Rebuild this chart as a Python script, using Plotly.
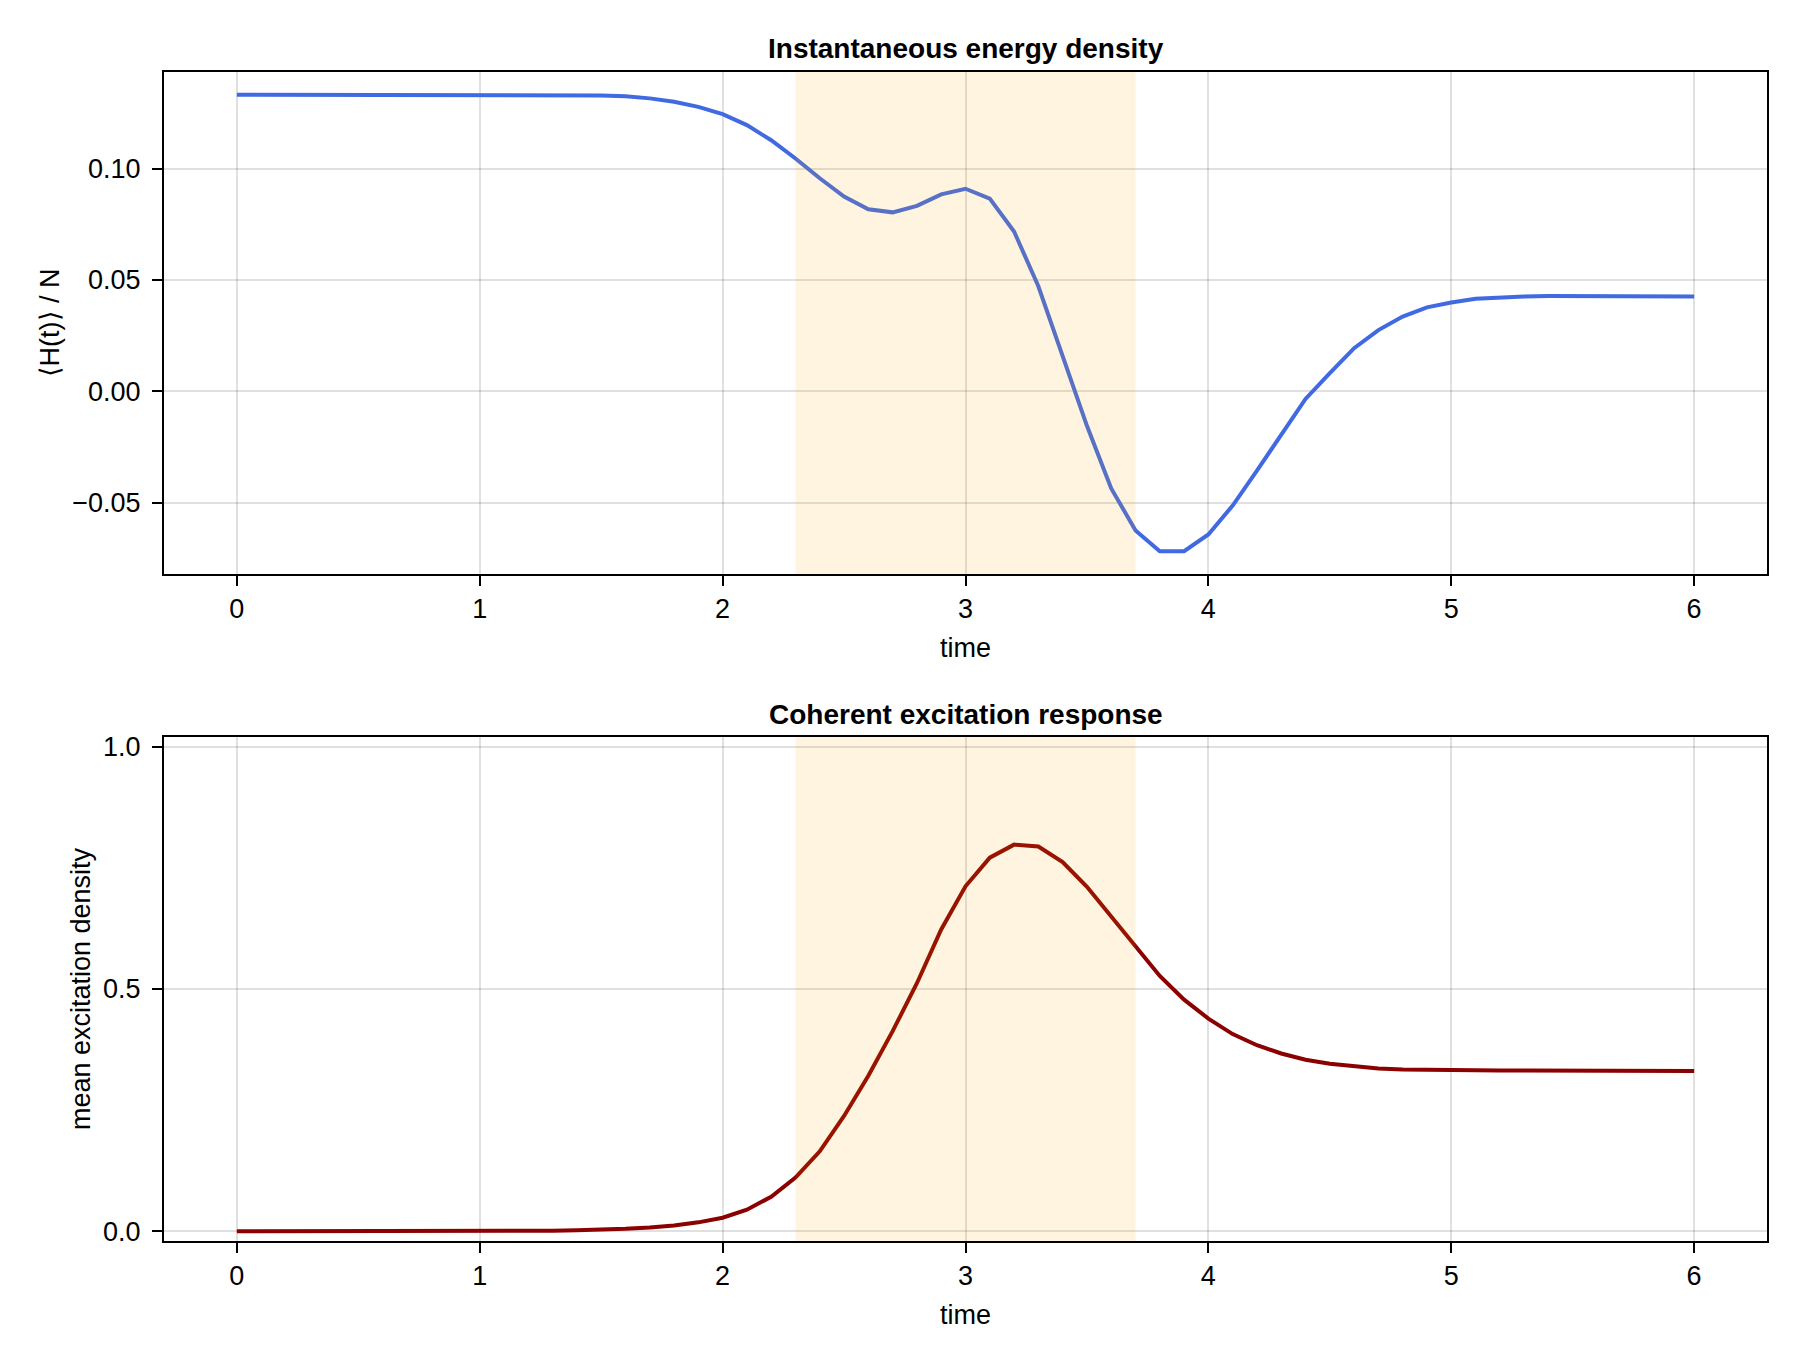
import plotly.graph_objects as go

# sampling grid 0.0 .. 6.0, step 0.1
time = [round(0.1 * i, 1) for i in range(61)]

energy_density = [
    0.1332, 0.1332, 0.1332, 0.1332, 0.1332, 0.1332, 0.1332, 0.1332, 0.1332, 0.1332,
    0.1332, 0.1332, 0.1332, 0.1332, 0.1331, 0.1329, 0.1325, 0.1316, 0.1301, 0.1278,
    0.1245, 0.1196, 0.1128, 0.1046, 0.0957, 0.0875, 0.0818, 0.0804, 0.0833, 0.0885,
    0.0910, 0.0866, 0.0718, 0.0472, 0.0158, -0.0155, -0.0436, -0.0625, -0.0718, -0.0718,
    -0.0643, -0.0513, -0.0356, -0.0191, -0.0034, 0.0082, 0.0194, 0.0275, 0.0336, 0.0377,
    0.0399, 0.0416, 0.0423, 0.0426, 0.0428, 0.0428, 0.0428, 0.0427, 0.0427, 0.0426,
    0.0426,
]

excitation_density = [
    0.0, 0.0, 0.0, 0.0, 0.0, 0.0, 0.0, 0.0, 0.0, 0.0001,
    0.0002, 0.0004, 0.0007, 0.0012, 0.0022, 0.0034, 0.0052, 0.0080, 0.0122, 0.0185,
    0.0281, 0.0446, 0.0714, 0.111, 0.165, 0.238, 0.321, 0.413, 0.512, 0.623,
    0.712, 0.771, 0.798, 0.794, 0.762, 0.711, 0.649, 0.586, 0.527, 0.478,
    0.439, 0.407, 0.384, 0.367, 0.354, 0.346, 0.340, 0.336, 0.334, 0.333,
    0.332, 0.332, 0.332, 0.332, 0.332, 0.332, 0.331, 0.331, 0.331, 0.331,
    0.331,
]

pulse_window = [2.3, 3.7]

energy_ticks = [-0.05, 0.0, 0.05, 0.10]
energy_ticktext = ["\u22120.05", "0.00", "0.05", "0.10"]
excitation_ticks = [0.0, 0.5, 1.0]
excitation_ticktext = ["0.0", "0.5", "1.0"]
time_ticks = [0, 1, 2, 3, 4, 5, 6]

FONT = "Liberation Sans, Arial, sans-serif"
GRID = "rgba(0,0,0,0.12)"

# Makie-style 5% autolimit margin on the energy panel
e_lo, e_hi = min(energy_density), max(energy_density)
e_pad = 0.05 * (e_hi - e_lo)

fig = go.Figure()

fig.add_trace(go.Scatter(
    x=time, y=energy_density, mode="lines",
    line=dict(color="#4169E1", width=4),
    xaxis="x", yaxis="y", showlegend=False,
))
fig.add_trace(go.Scatter(
    x=time, y=excitation_density, mode="lines",
    line=dict(color="#8B0000", width=4),
    xaxis="x2", yaxis="y2", showlegend=False,
))

# driving pulse window, drawn over the curves like the translucent vspan
for xr, yr in [("x", "y"), ("x2", "y2")]:
    fig.add_shape(
        type="rect", xref=xr, yref=f"{yr} domain",
        x0=pulse_window[0], x1=pulse_window[1], y0=0, y1=1,
        fillcolor="rgba(255,165,0,0.12)", line_width=0, layer="above",
    )

axis_common = dict(
    showline=True, linecolor="black", linewidth=2, mirror=True,
    showgrid=True, gridcolor=GRID, gridwidth=1.5, zeroline=False,
    ticks="outside", ticklen=10, tickwidth=2, tickcolor="black",
    tickfont=dict(family=FONT, size=27, color="black"),
)

fig.update_layout(
    width=1800, height=1360,
    paper_bgcolor="white", plot_bgcolor="white",
    margin=dict(l=156, r=41, t=64, b=127),
    font=dict(family=FONT, size=27, color="black"),
    xaxis=dict(
        **axis_common, domain=[0, 1], anchor="y", range=[-0.3, 6.3],
        tickvals=time_ticks,
        title=dict(text="time", font=dict(size=27), standoff=15),
    ),
    yaxis=dict(
        **axis_common, domain=[0.5706, 1], anchor="x",
        range=[e_lo - e_pad, e_hi + e_pad],
        tickvals=energy_ticks, ticktext=energy_ticktext, ticklabelstandoff=6,
        title=dict(text="\u27e8H(t)\u27e9 / N", font=dict(size=27), standoff=5),
    ),
    xaxis2=dict(
        **axis_common, domain=[0, 1], anchor="y2", range=[-0.3, 6.3],
        tickvals=time_ticks,
        title=dict(text="time", font=dict(size=27), standoff=15),
    ),
    yaxis2=dict(
        **axis_common, domain=[0, 0.4311], anchor="x2", range=[-0.02, 1.02],
        tickvals=excitation_ticks, ticktext=excitation_ticktext, ticklabelstandoff=6,
        title=dict(text="mean excitation density", font=dict(size=27), standoff=5),
    ),
    annotations=[
        dict(text="<b>Instantaneous energy density</b>", xref="paper", yref="paper",
             x=0.5, y=1.0205, xanchor="center", yanchor="middle", showarrow=False,
             font=dict(family=FONT, size=28, color="black")),
        dict(text="<b>Coherent excitation response</b>", xref="paper", yref="paper",
             x=0.5, y=0.4508, xanchor="center", yanchor="middle", showarrow=False,
             font=dict(family=FONT, size=28, color="black")),
    ],
)

fig.write_html("out.html")
